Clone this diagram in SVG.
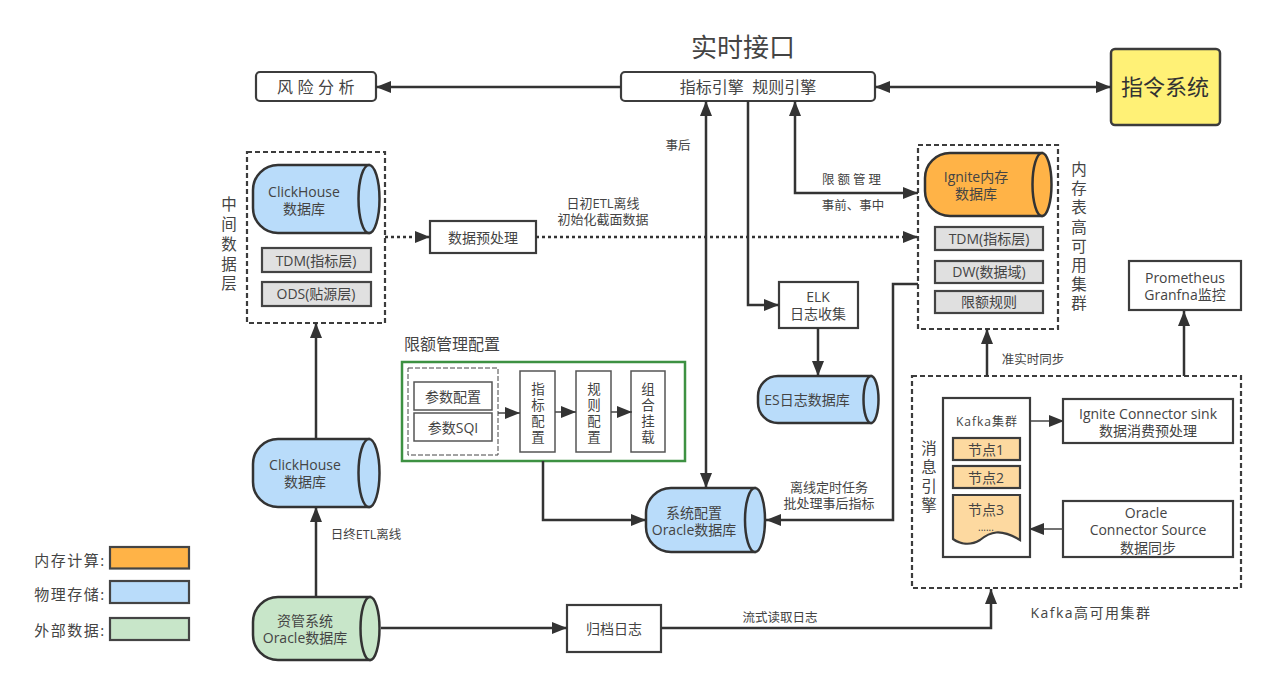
<svg xmlns="http://www.w3.org/2000/svg" width="1268" height="686" viewBox="0 0 1268 686">
<style>
text{font-family:"Open Sans","Noto Sans CJK SC",sans-serif;fill:#444;text-anchor:middle;font-size:14px}
.t12{font-size:12.5px}.t13{font-size:13px}.t15{font-size:15px}.t16{font-size:16px}
.v{font-size:15.5px;font-family:"Liberation Sans","Noto Sans CJK SC",sans-serif}
.vs{font-size:13.5px;font-family:"Liberation Sans","Noto Sans CJK SC",sans-serif}
.box{fill:#fff;stroke:#3c3c3c;stroke-width:2.2}
.thin{fill:#fff;stroke:#555;stroke-width:1.5}
.gray{fill:#e0e0e0;stroke:#444;stroke-width:2.2}
.node{fill:#fdd9a0;stroke:#3c3c3c;stroke-width:2.2}
.dash{fill:none;stroke:#3c3c3c;stroke-width:2.2;stroke-dasharray:5 3}
.cyl{stroke:#333;stroke-width:2.5}
.blue{fill:#b9dcfa}.orange{fill:#ffb347}.green{fill:#c8e6c9}
.line{fill:none;stroke:#333;stroke-width:2.5}
.lthin{fill:none;stroke:#444;stroke-width:1.5}
.dot{fill:none;stroke:#333;stroke-width:2.5;stroke-dasharray:3 3}
.end{marker-end:url(#a)}.both{marker-start:url(#a);marker-end:url(#a)}
</style>
<defs>
<marker id="a" viewBox="0 0 15 12" refX="15" refY="6" markerWidth="15" markerHeight="12" markerUnits="userSpaceOnUse" orient="auto-start-reverse"><path d="M0 0L15 6L0 12z" fill="#333"/></marker>
</defs>
<text x="743" y="57" style="font-size:26px">实时接口</text>
<g id="risk"><rect class="box" x="256" y="72" width="120" height="29" rx="4"/><text class="t16" x="318" y="93" style="letter-spacing:4.500px">风险分析</text></g>
<g id="engine"><rect class="box" x="621" y="72" width="254" height="29" rx="4"/><text class="t16" x="748" y="93" xml:space="preserve">指标引擎  规则引擎</text></g>
<g id="command"><rect x="1111" y="49" width="109" height="76" rx="4" fill="#fff176" stroke="#3c3c3c" stroke-width="2.5"/><text x="1165" y="95" style="font-size:22px;fill:#333">指令系统</text></g>
<g id="midlayer"><rect class="dash" x="247" y="152" width="138" height="171"/>
<path class="cyl blue" d="M369 165H278A25 25 0 0 0 253 190V208A25 25 0 0 0 278 233H369z"/><ellipse class="cyl blue" cx="369" cy="199" rx="10.5" ry="34"/>
<text x="304" y="197">ClickHouse</text><text x="304" y="214">数据库</text>
<rect class="gray" x="262" y="248" width="109" height="24"/><text x="316" y="266">TDM(指标层)</text>
<rect class="gray" x="262" y="282" width="109" height="24"/><text x="316" y="299">ODS(贴源层)</text>
</g>
<g id="midlabel"><text class="v"><tspan x="229" y="210">中</tspan><tspan x="229" y="230">间</tspan><tspan x="229" y="250">数</tspan><tspan x="229" y="270">据</tspan><tspan x="229" y="289">层</tspan></text></g>
<g id="prep"><rect class="box" x="430" y="221" width="106" height="32"/><text x="483" y="243">数据预处理</text></g>
<text class="t13" x="603" y="208">日初ETL离线</text>
<text class="t13" x="603" y="224">初始化截面数据</text>
<text class="t12" x="678" y="150">事后</text>
<text class="t12" x="853" y="184" style="letter-spacing:3px">限额管理</text>
<text class="t12" x="853" y="210">事前、事中</text>
<g id="ignite"><rect class="dash" x="918" y="145" width="140" height="184"/>
<path class="cyl orange" d="M1042 153H950A25 25 0 0 0 925 178V191A25 25 0 0 0 950 216H1042z"/><ellipse class="cyl orange" cx="1042" cy="184.500" rx="9.500" ry="31.500"/>
<text x="976" y="182">Ignite内存</text><text x="976" y="199">数据库</text>
<rect class="gray" x="935" y="227" width="108" height="23"/><text x="989" y="244">TDM(指标层)</text>
<rect class="gray" x="935" y="261" width="108" height="22"/><text x="989" y="277">DW(数据域)</text>
<rect class="gray" x="935" y="291" width="108" height="22"/><text x="989" y="307">限额规则</text>
</g>
<g id="ignitelabel"><text class="v"><tspan x="1079" y="175">内</tspan><tspan x="1079" y="194">存</tspan><tspan x="1079" y="213">表</tspan><tspan x="1079" y="233">高</tspan><tspan x="1079" y="252">可</tspan><tspan x="1079" y="271">用</tspan><tspan x="1079" y="290">集</tspan><tspan x="1079" y="309">群</tspan></text></g>
<g id="elk"><rect class="box" x="779" y="282" width="79" height="46"/><text x="818" y="302">ELK</text><text x="818" y="319">日志收集</text></g>
<g id="es"><path class="cyl blue" d="M871 376H778A20 20 0 0 0 758 396V403A20 20 0 0 0 778 423H871z"/><ellipse class="cyl blue" cx="871" cy="399.500" rx="7.500" ry="23.500"/><text x="807" y="405">ES日志数据库</text></g>
<g id="prom"><rect class="box" x="1129" y="261" width="112" height="49"/><text x="1185" y="283">Prometheus</text><text x="1185" y="300">Granfna监控</text></g>
<text class="t16" x="452" y="350">限额管理配置</text>
<g id="limitcfg"><rect x="402" y="362" width="283" height="99" fill="#fff" stroke="#3d9142" stroke-width="2.5"/>
<rect x="408" y="368" width="90" height="87" fill="none" stroke="#444" stroke-width="1" stroke-dasharray="5 2"/>
<rect class="thin" x="414" y="382" width="78" height="28"/><text x="453" y="402">参数配置</text>
<rect class="thin" x="414" y="413" width="78" height="28"/><text x="453" y="433">参数SQI</text>
<rect class="thin" x="520" y="371" width="35" height="81"/><text class="vs"><tspan x="538" y="394">指</tspan><tspan x="538" y="410">标</tspan><tspan x="538" y="426">配</tspan><tspan x="538" y="442">置</tspan></text>
<rect class="thin" x="576" y="371" width="35" height="81"/><text class="vs"><tspan x="594" y="394">规</tspan><tspan x="594" y="410">则</tspan><tspan x="594" y="426">配</tspan><tspan x="594" y="442">置</tspan></text>
<rect class="thin" x="631" y="371" width="34" height="81"/><text class="vs"><tspan x="648" y="394">组</tspan><tspan x="648" y="410">合</tspan><tspan x="648" y="426">挂</tspan><tspan x="648" y="442">载</tspan></text>
</g>
<g id="sysoracle"><path class="cyl blue" d="M755 488H671A25 25 0 0 0 646 513V527A25 25 0 0 0 671 552H755z"/><ellipse class="cyl blue" cx="755" cy="520" rx="10" ry="32"/><text x="694" y="518">系统配置</text><text x="694" y="535">Oracle数据库</text></g>
<text class="t13" x="829" y="492">离线定时任务</text>
<text class="t13" x="829" y="508">批处理事后指标</text>
<g id="ck2"><path class="cyl blue" d="M369 439H278A25 25 0 0 0 253 464V482A25 25 0 0 0 278 507H369z"/><ellipse class="cyl blue" cx="369" cy="473" rx="10.500" ry="34"/><text x="305" y="470">ClickHouse</text><text x="305" y="487">数据库</text></g>
<text class="t12" x="366" y="539">日终ETL离线</text>
<g id="assetoracle"><path class="cyl green" d="M370 597H278A25 25 0 0 0 253 622V635A25 25 0 0 0 278 660H370z"/><ellipse class="cyl green" cx="370" cy="628.500" rx="9.500" ry="31.500"/><text x="305" y="626">资管系统</text><text x="305" y="643">Oracle数据库</text></g>
<g id="archive"><rect class="box" x="567" y="605" width="94" height="47"/><text x="614" y="634">归档日志</text></g>
<text class="t12" x="780" y="622">流式读取日志</text>
<text class="t12" x="1033" y="364">准实时同步</text>
<g id="kafka"><rect class="dash" x="912" y="376" width="329" height="212"/>
<rect class="box" x="943" y="398" width="87" height="159"/>
<text x="987" y="426" style="font-size:12px;letter-spacing:1px">Kafka集群</text>
<rect class="node" x="953" y="438" width="67" height="22"/><text x="986" y="455">节点1</text>
<rect class="node" x="953" y="466" width="67" height="22"/><text x="986" y="483">节点2</text>
<path class="node" d="M953 495H1020V540C1000 528 990 532 980 540C970 546 960 544 953 539z"/><text x="986" y="515">节点3</text><text x="986" y="531" style="font-size:10px">......</text>
<rect class="box" x="1063" y="399" width="170" height="44"/><text x="1148" y="419">Ignite Connector sink</text><text x="1148" y="436">数据消费预处理</text>
<rect class="box" x="1063" y="501" width="170" height="56"/><text x="1146" y="518">Oracle</text><text x="1148" y="535">Connector Source</text><text x="1148" y="553">数据同步</text>
</g>
<g id="kafkalabel"><text class="v"><tspan x="929" y="454">消</tspan><tspan x="929" y="473">息</tspan><tspan x="929" y="492">引</tspan><tspan x="929" y="511">擎</tspan></text></g>
<text x="1091" y="618" style="letter-spacing:1.500px">Kafka高可用集群</text>
<g id="legend">
<text x="70" y="566" style="font-size:15px;letter-spacing:1.500px">内存计算:</text><rect x="110" y="547" width="79" height="21.500" class="orange" stroke="#444" stroke-width="2.200"/>
<text x="70" y="600" style="font-size:15px;letter-spacing:1.500px">物理存储:</text><rect x="110" y="581" width="79" height="22" class="blue" stroke="#444" stroke-width="2.200"/>
<text x="70" y="636" style="font-size:15px;letter-spacing:1.500px">外部数据:</text><rect x="110" y="618" width="79" height="22" class="green" stroke="#444" stroke-width="2.200"/>
</g>
<g id="connectors">
<path class="line end" d="M621 87H376"/>
<path class="line both" d="M875 87H1111"/>
<path class="line both" d="M706 101V488"/>
<path class="line end" d="M748 101V305H779"/>
<path class="line both" d="M795 101V193H918"/>
<path class="dot end" d="M385 237H430"/>
<path class="dot end" d="M536 237H918"/>
<path class="line end" d="M818 328V376"/>
<path class="line end" d="M918 284H893V520H766"/>
<path class="line end" d="M543 461V520H646"/>
<path class="line end" d="M316 439V323"/>
<path class="line end" d="M316 597V507"/>
<path class="line end" d="M381 628H567"/>
<path class="line end" d="M661 628H991V589"/>
<path class="line end" d="M987 376V329"/>
<path class="line end" d="M1184 376V311"/>
<path class="lthin end" d="M498 413H520"/>
<path class="lthin end" d="M555 412H576"/>
<path class="lthin end" d="M611 412H632"/>
<path class="lthin end" d="M1031 421H1064"/>
<path class="lthin end" d="M1063 529H1029"/>
</g>
</svg>
